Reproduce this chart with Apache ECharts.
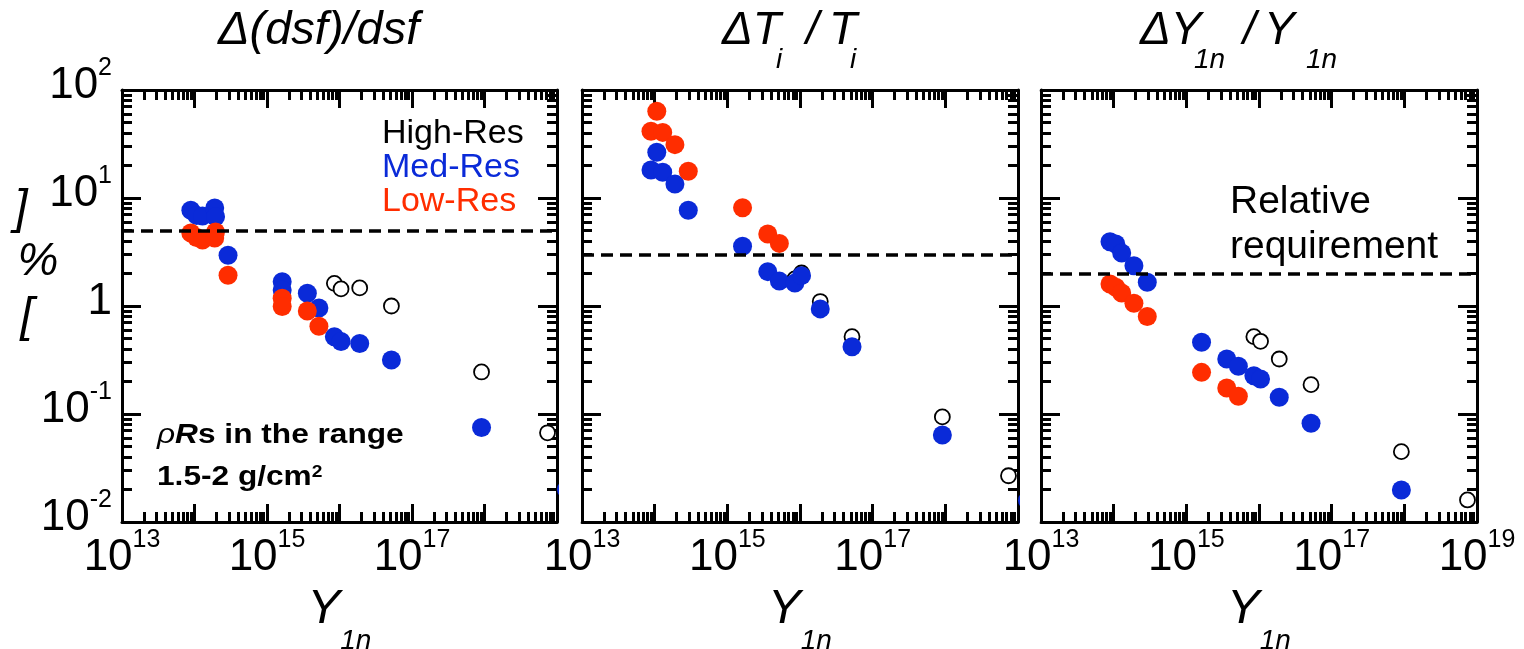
<!DOCTYPE html>
<html>
<head>
<meta charset="utf-8">
<script src="https://cdn.jsdelivr.net/npm/echarts@6/dist/echarts.min.js"></script>
<style>
  html, body { margin: 0; padding: 0; background: #fff; }
  #chart { width: 1524px; height: 649px; }
</style>
</head>
<body>
<div id="chart"></div>
<script>
// Relative uncertainty [%] versus primary neutron yield Y1n,
// for high, medium and low resolution detector setups.

// Δ(dsf)/dsf
const dsfHigh = [[8.5e15, 1.62], [1.05e16, 1.44], [1.9e16, 1.47], [5.2e16, 1.0], [9.1e17, 0.245], [7.4e18, 0.067]];
const dsfMed = [[8.9e13, 7.7], [1.07e14, 6.9], [1.29e14, 6.8], [1.9e14, 8.1], [1.95e14, 6.7], [2.9e14, 2.95],
                [1.62e15, 1.68], [1.62e15, 1.41], [3.6e15, 1.31], [5.2e15, 0.96], [8.5e15, 0.52], [1.05e16, 0.47],
                [1.9e16, 0.45], [5.2e16, 0.316], [9.1e17, 0.075], [1.35e19, 0.02]];
const dsfLow = [[8.9e13, 4.74], [1.07e14, 4.3], [1.29e14, 4.08], [1.9e14, 4.26], [1.95e14, 4.85], [2.9e14, 1.93],
                [1.62e15, 1.18], [1.62e15, 0.99], [3.6e15, 0.9], [5.2e15, 0.65]];

// ΔTi / Ti
const tiHigh = [[8.5e15, 1.78], [1.05e16, 2.02], [1.9e16, 1.1], [5.2e16, 0.52], [9.1e17, 0.094], [7.4e18, 0.0268]];
const tiMed = [[8.9e13, 18.2], [1.07e14, 26.5], [1.29e14, 17.3], [1.9e14, 13.5], [2.9e14, 7.7], [1.62e15, 3.57],
               [3.6e15, 2.08], [5.2e15, 1.7], [8.5e15, 1.63], [1.05e16, 1.91], [1.9e16, 0.94], [5.2e16, 0.42],
               [9.1e17, 0.064], [1.35e19, 0.0158]];
const tiLow = [[8.9e13, 41.5], [1.07e14, 63.5], [1.29e14, 40.5], [1.9e14, 31.2], [2.9e14, 17.7], [1.62e15, 8.13],
               [3.6e15, 4.64], [5.2e15, 3.8]];

// ΔY1n / Y1n
const ynHigh = [[8.5e15, 0.52], [1.05e16, 0.471], [1.9e16, 0.323], [5.2e16, 0.187], [9.1e17, 0.0448], [7.4e18, 0.016]];
const ynMed = [[8.9e13, 3.94], [1.07e14, 3.75], [1.29e14, 3.1], [1.9e14, 2.36], [2.9e14, 1.66], [1.62e15, 0.461],
               [3.6e15, 0.323], [5.2e15, 0.277], [8.5e15, 0.226], [1.05e16, 0.211], [1.9e16, 0.143], [5.2e16, 0.082],
               [9.1e17, 0.0198]];
const ynLow = [[8.9e13, 1.6], [1.07e14, 1.49], [1.29e14, 1.32], [1.9e14, 1.06], [2.9e14, 0.8], [1.62e15, 0.243],
               [3.6e15, 0.174], [5.2e15, 0.146]];

// Required relative precision for each quantity [%]
const requirement = [5, 3, 2];

// Axis decades and labelled values
const xDecades = [1e13, 1e14, 1e15, 1e16, 1e17, 1e18, 1e19];
const yDecades = [1e-2, 1e-1, 1, 1e1, 1e2];
const xLabelValues = [1e13, 1e15, 1e17];
const xLabelValuesLast = [1e13, 1e15, 1e17, 1e19];

const resolutionNames = ['High-Res', 'Med-Res', 'Low-Res'];

const FONT = "'Liberation Sans', Arial, Helvetica, sans-serif";
const BLUE = '#0a2ad8';
const RED = '#ff2d00';

function minorValues(decades) {
  const out = [];
  for (let i = 0; i < decades.length - 1; i++) {
    for (let m = 2; m <= 9; m++) out.push(Number((m * decades[i]).toPrecision(4)));
  }
  return out;
}
const xMinor = minorValues(xDecades);
const yMinor = minorValues(yDecades);

function powLabel(v) {
  const e = Math.round(Math.log10(v));
  return e === 0 ? '{b|1}' : '{b|10}{s|' + e + '}';
}
const labelRich = {
  b: { fontSize: 44, lineHeight: 60, fontFamily: FONT, color: '#000' },
  s: { fontSize: 25, lineHeight: 25, verticalAlign: 'top', fontFamily: FONT, color: '#000' }
};

const panels = [
  { high: dsfHigh, med: dsfMed, low: dsfLow, req: requirement[0], left: 122, width: 435, xLabels: xLabelValues, yLabels: true },
  { high: tiHigh, med: tiMed, low: tiLow, req: requirement[1], left: 582, width: 436, xLabels: xLabelValues, yLabels: false },
  { high: ynHigh, med: ynMed, low: ynLow, req: requirement[2], left: 1041, width: 436, xLabels: xLabelValuesLast, yLabels: false }
];

const frameLine = { show: true, onZero: false, lineStyle: { color: '#000', width: 3 } };
function ticks(len, values) {
  return { show: true, inside: true, length: len, customValues: values, lineStyle: { color: '#000', width: 3 } };
}

const grids = [], xAxes = [], yAxes = [], series = [];

panels.forEach(function (p, g) {
  grids.push({ left: p.left, top: 90, width: p.width, height: 432, containLabel: false, outerBoundsMode: 'none' });

  const xb = { type: 'log', logBase: 10, gridIndex: g, min: 1e13, max: 1e19, splitLine: { show: false }, axisPointer: { show: false } };
  xAxes.push(Object.assign({}, xb, {
    position: 'bottom', axisLine: frameLine, axisTick: ticks(18, xDecades),
    axisLabel: { customValues: p.xLabels, formatter: powLabel, margin: 6, rich: labelRich },
    name: '{y|Y}{n|1n}', nameLocation: 'middle', nameGap: 56,
    nameTextStyle: {
      rich: {
        y: { fontSize: 49, fontStyle: 'italic', lineHeight: 50, verticalAlign: 'top', fontFamily: FONT, color: '#000' },
        n: { fontSize: 28, fontStyle: 'italic', lineHeight: 28, verticalAlign: 'top', padding: [42, 0, 0, 0], fontFamily: FONT, color: '#000' }
      }
    }
  }));
  xAxes.push(Object.assign({}, xb, { position: 'bottom', axisLine: { show: false }, axisTick: ticks(10, xMinor), axisLabel: { show: false } }));
  xAxes.push(Object.assign({}, xb, { position: 'top', axisLine: frameLine, axisTick: ticks(18, xDecades), axisLabel: { show: false } }));
  xAxes.push(Object.assign({}, xb, { position: 'top', axisLine: { show: false }, axisTick: ticks(10, xMinor), axisLabel: { show: false } }));

  const yb = { type: 'log', logBase: 10, gridIndex: g, min: 1e-2, max: 1e2, splitLine: { show: false }, axisPointer: { show: false } };
  yAxes.push(Object.assign({}, yb, {
    position: 'left', axisLine: frameLine, axisTick: ticks(19, yDecades),
    axisLabel: p.yLabels
      ? { customValues: yDecades, formatter: powLabel, margin: 10, rich: labelRich, padding: [0, 0, 8, 0] }
      : { show: false }
  }));
  yAxes.push(Object.assign({}, yb, { position: 'left', axisLine: { show: false }, axisTick: ticks(10, yMinor), axisLabel: { show: false } }));
  yAxes.push(Object.assign({}, yb, { position: 'right', axisLine: frameLine, axisTick: ticks(19, yDecades), axisLabel: { show: false } }));
  yAxes.push(Object.assign({}, yb, { position: 'right', axisLine: { show: false }, axisTick: ticks(10, yMinor), axisLabel: { show: false } }));

  const ax = { xAxisIndex: 4 * g, yAxisIndex: 4 * g, silent: true, clip: false, emphasis: { disabled: true } };
  series.push(Object.assign({ type: 'scatter', name: resolutionNames[0], data: p.high, symbol: 'circle', symbolSize: 15,
    itemStyle: { color: '#fff', borderColor: '#000', borderWidth: 1.8, opacity: 1 }, z: 2 }, ax));
  series.push(Object.assign({ type: 'scatter', name: resolutionNames[1], data: p.med, symbol: 'circle', symbolSize: 19,
    itemStyle: { color: BLUE, opacity: 1 }, z: 2 }, ax));
  series.push(Object.assign({ type: 'scatter', name: resolutionNames[2], data: p.low, symbol: 'circle', symbolSize: 19,
    itemStyle: { color: RED, opacity: 1 }, z: 2 }, ax));
  series.push(Object.assign({ type: 'scatter', data: [], z: 5,
    markLine: {
      silent: true, symbol: ['none', 'none'], label: { show: false },
      lineStyle: { color: '#000', type: [12, 7], width: 3.5, opacity: 1 },
      data: [{ yAxis: p.req }]
    } }, ax));
});

function txt(x, y, text, size, extra) {
  return {
    type: 'text', x: x, y: y, z: 60, silent: true,
    style: Object.assign({
      text: text, fontSize: size, fontFamily: FONT, fontStyle: 'italic', fill: '#000',
      textAlign: 'left', align: 'left', textVerticalAlign: 'middle', verticalAlign: 'middle'
    }, extra || {})
  };
}

const graphics = [
  // keep marks inside each frame
  { type: 'rect', z: 50, silent: true, shape: { x: 559, y: 80, width: 21.5, height: 443 }, style: { fill: '#fff' } },
  { type: 'rect', z: 50, silent: true, shape: { x: 1020, y: 80, width: 19.5, height: 443 }, style: { fill: '#fff' } },

  // panel titles
  txt(218, 31, 'Δ(dsf)/dsf', 47),
  txt(722, 31, 'ΔT', 46), txt(776, 60, 'i', 28), txt(806, 31, '/', 46), txt(829, 31, 'T', 46), txt(850, 60, 'i', 28),
  txt(1140, 31, 'ΔY', 46), txt(1194, 60, '1n', 28), txt(1243, 31, '/', 46), txt(1264, 31, 'Y', 46), txt(1306, 60, '1n', 28),

  // y axis title
  txt(21, 210, ']', 48, { textAlign: 'center', align: 'center' }),
  txt(38, 262, '%', 46, { textAlign: 'center', align: 'center' }),
  txt(27, 318, '[', 48, { textAlign: 'center', align: 'center' }),

  // annotation
  {
    type: 'text', x: 157, y: 414, z: 60, silent: true, scaleX: 1.13,
    style: {
      text: '{i|ρ}{r|R}{b|s in the range}\n{b|1.5-2 g/cm}{p|2}',
      textAlign: 'left', align: 'left', textVerticalAlign: 'top', verticalAlign: 'top', fill: '#000',
      rich: {
        i: { fontSize: 28, fontStyle: 'italic', fontFamily: FONT, lineHeight: 42, fill: '#000' },
        r: { fontSize: 28, fontStyle: 'italic', fontWeight: 'bold', fontFamily: FONT, lineHeight: 42, fill: '#000' },
        b: { fontSize: 28, fontWeight: 'bold', fontFamily: FONT, lineHeight: 42, fill: '#000' },
        p: { fontSize: 17, fontWeight: 'bold', fontFamily: FONT, lineHeight: 17, verticalAlign: 'top', padding: [8, 0, 0, 0], fill: '#000' }
      }
    }
  },

  // requirement note
  txt(1230, 180, 'Relative\nrequirement', 39, { fontStyle: 'normal', lineHeight: 45, textVerticalAlign: 'top', verticalAlign: 'top' })
];

const chart = echarts.init(document.getElementById('chart'), null, { renderer: 'canvas' });
chart.setOption({
  animation: false,
  backgroundColor: '#fff',
  grid: grids,
  xAxis: xAxes,
  yAxis: yAxes,
  legend: {
    orient: 'vertical', left: 371, top: 112, icon: 'circle', itemWidth: 0, itemHeight: 0, itemGap: 0,
    selectedMode: false,
    textStyle: { fontSize: 34, lineHeight: 33, fontFamily: FONT },
    data: [
      { name: resolutionNames[0], textStyle: { color: '#000' } },
      { name: resolutionNames[1], textStyle: { color: BLUE } },
      { name: resolutionNames[2], textStyle: { color: RED } }
    ]
  },
  series: series,
  graphic: graphics
});
</script>
</body>
</html>
